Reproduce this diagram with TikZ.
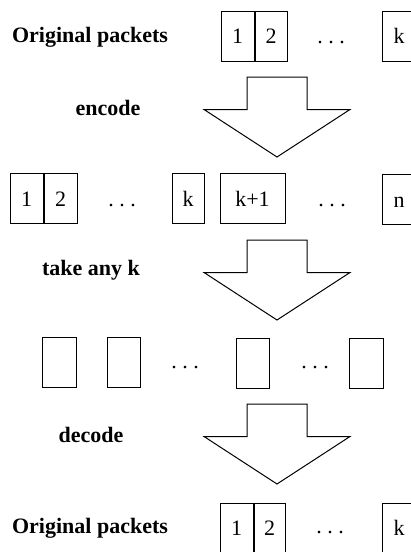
\documentclass[tikz,border=0pt]{standalone}
\usepackage{fontspec}
\setmainfont{Liberation Serif}
\begin{document}
\begin{tikzpicture}[x=1pt,y=-1pt,
  every node/.style={font=\fontsize{22}{26}\selectfont},
  pkt/.style={draw,line width=1pt,inner sep=0pt,text height=15pt,text depth=0pt,minimum height=50pt},
  lbl/.style={font=\fontsize{22}{26}\selectfont\bfseries,anchor=base},
  dots/.style={anchor=base},
  blockarrow/.pic={\draw[line width=1pt,line join=miter]
     (-30,0) -- (30,0) -- (30,32.5) -- (73,32.5) -- (0,80) -- (-73,32.5) -- (-30,32.5) -- cycle;}
]
\useasboundingbox (0,0) rectangle (411,552);
\clip (0,0) rectangle (411,552);
% Row 1
\node[lbl] (l1) at (90,42) {Original packets};
\node[pkt,minimum width=33pt] (a1) at (237.5,36) {1};
\node[pkt,minimum width=32pt,anchor=west] (a2) at (a1.east) {2};
\node[dots] (ad) at (331,43.5) {.\ .\ .};
\node[pkt,minimum width=34pt] (ak) at (399,36) {k};
% Arrow 1
\pic at (277,77) {blockarrow};
\node[lbl] (l2) at (108,115) {encode};
% Row 2
\node[pkt,minimum width=33pt] (b1) at (26.5,198.5) {1};
\node[pkt,minimum width=33pt,anchor=west] (b2) at (b1.east) {2};
\node[dots] (bd1) at (122,206) {.\ .\ .};
\node[pkt,minimum width=32pt] (bk) at (188,198.5) {k};
\node[pkt,minimum width=65pt] (bk1) at (252.5,198.5) {k+1};
\node[dots] (bd2) at (332,206) {.\ .\ .};
\node[pkt,minimum width=34pt] (bn) at (399,199.5) {n};
% Arrow 2
\pic at (277,240) {blockarrow};
\node[lbl] (l3) at (91,275) {take any k};
% Row 3
\node[pkt,minimum width=34pt] (c1) at (59,362) {};
\node[pkt,minimum width=33pt] (c2) at (123.5,362) {};
\node[dots] (cd1) at (185,368) {.\ .\ .};
\node[pkt,minimum width=33pt] (c3) at (252.5,363) {};
\node[dots] (cd2) at (315,368) {.\ .\ .};
\node[pkt,minimum width=34pt] (c4) at (366,363) {};
% Arrow 3
\pic at (277,404) {blockarrow};
\node[lbl] (l4) at (91,442) {decode};
% Row 4
\node[pkt,minimum width=33pt] (d1) at (236.5,528) {1};
\node[pkt,minimum width=31pt,anchor=west] (d2) at (d1.east) {2};
\node[dots] (dd) at (330,533) {.\ .\ .};
\node[pkt,minimum width=34pt] (dk) at (399,528) {k};
\node[lbl] (l5) at (90,533) {Original packets};
\end{tikzpicture}
\end{document}
